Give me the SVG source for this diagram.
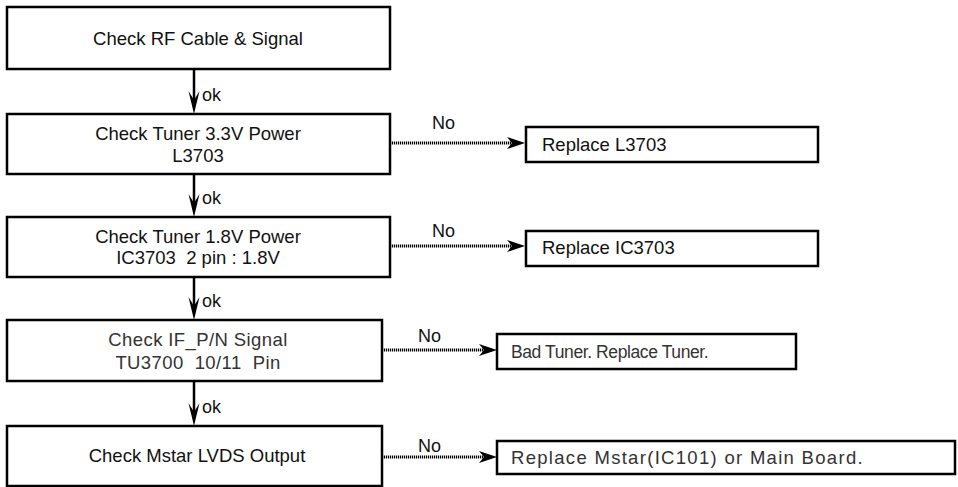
<svg xmlns="http://www.w3.org/2000/svg" width="958" height="487" viewBox="0 0 958 487">
<style>
.box{fill:#fff;stroke:#000;stroke-width:2.5}
.t{font-family:"Liberation Sans",Arial,sans-serif;font-size:18.5px;fill:#111}
.c{text-anchor:middle}
.g{fill:#333;letter-spacing:0.4px}
.lab{font-family:"Liberation Sans",Arial,sans-serif;font-size:18px;fill:#111}
.solid{stroke:#000;stroke-width:2.5;fill:none}
.dot{stroke:#000;stroke-width:3;stroke-dasharray:1.2 0.8;fill:none}
.head{fill:#000}
</style>
<rect width="958" height="487" fill="#fff"/>
<g id="connectors">
  <line class="solid" x1="194" y1="69" x2="194" y2="104"/>
  <path class="head" d="M194,114 L188.5,91 L194,100 L199.5,91 Z"/>
  <line class="solid" x1="194" y1="174" x2="194" y2="207"/>
  <path class="head" d="M194,217 L188.5,194 L194,203 L199.5,194 Z"/>
  <line class="solid" x1="194" y1="277" x2="194" y2="310"/>
  <path class="head" d="M194,320 L188.5,297 L194,306 L199.5,297 Z"/>
  <line class="solid" x1="194" y1="381" x2="194" y2="416"/>
  <path class="head" d="M194,426 L188.5,403 L194,412 L199.5,403 Z"/>
  <line class="dot" x1="390" y1="143" x2="512" y2="143"/>
  <path class="head" d="M525,143 L507,137 L512,143 L507,149 Z"/>
  <line class="dot" x1="390" y1="246" x2="512" y2="246"/>
  <path class="head" d="M525,246 L507,240 L512,246 L507,252 Z"/>
  <line class="dot" x1="382" y1="350" x2="484" y2="350"/>
  <path class="head" d="M497,350 L479,344 L484,350 L479,356 Z"/>
  <line class="dot" x1="382" y1="457" x2="484" y2="457"/>
  <path class="head" d="M497,457 L479,451 L484,457 L479,463 Z"/>
  <text class="lab" x="202" y="101">ok</text>
  <text class="lab" x="202" y="204">ok</text>
  <text class="lab" x="202" y="307">ok</text>
  <text class="lab" x="202" y="413">ok</text>
  <text class="lab" x="432" y="129">No</text>
  <text class="lab" x="432" y="237">No</text>
  <text class="lab" x="418" y="342">No</text>
  <text class="lab" x="418" y="452">No</text>
</g>
<g id="n1">
  <rect class="box" x="7" y="7" width="383" height="62"/>
  <text class="t c" x="198" y="45">Check RF Cable &amp; Signal</text>
</g>
<g id="n2">
  <rect class="box" x="7" y="114" width="383" height="60"/>
  <text class="t c" x="198" y="140">Check Tuner 3.3V Power</text>
  <text class="t c" x="198" y="162">L3703</text>
</g>
<g id="n3">
  <rect class="box" x="7" y="217" width="383" height="60"/>
  <text class="t c" x="198" y="243">Check Tuner 1.8V Power</text>
  <text class="t c" x="198" y="264" xml:space="preserve">IC3703  2 pin : 1.8V</text>
</g>
<g id="n4">
  <rect class="box" x="7" y="320" width="375" height="61"/>
  <text class="t c g" x="198" y="346">Check IF_P/N Signal</text>
  <text class="t c g" x="198" y="369" xml:space="preserve">TU3700  10/11  Pin</text>
</g>
<g id="n5">
  <rect class="box" x="7" y="426" width="375" height="60"/>
  <text class="t c" x="197" y="462">Check Mstar LVDS Output</text>
</g>
<g id="r1">
  <rect class="box" x="526" y="127" width="292" height="35"/>
  <text class="t" x="542" y="151">Replace L3703</text>
</g>
<g id="r2">
  <rect class="box" x="526" y="231" width="292" height="35"/>
  <text class="t" x="542" y="254">Replace IC3703</text>
</g>
<g id="r3">
  <rect class="box" x="497" y="334" width="299" height="35"/>
  <text class="t g" x="511" y="358" style="letter-spacing:-0.4px;font-size:17.5px">Bad Tuner. Replace Tuner.</text>
</g>
<g id="r4">
  <rect class="box" x="497" y="441" width="458" height="33"/>
  <text class="t g" x="511" y="464" style="letter-spacing:1.3px">Replace Mstar(IC101) or Main Board.</text>
</g>
</svg>
